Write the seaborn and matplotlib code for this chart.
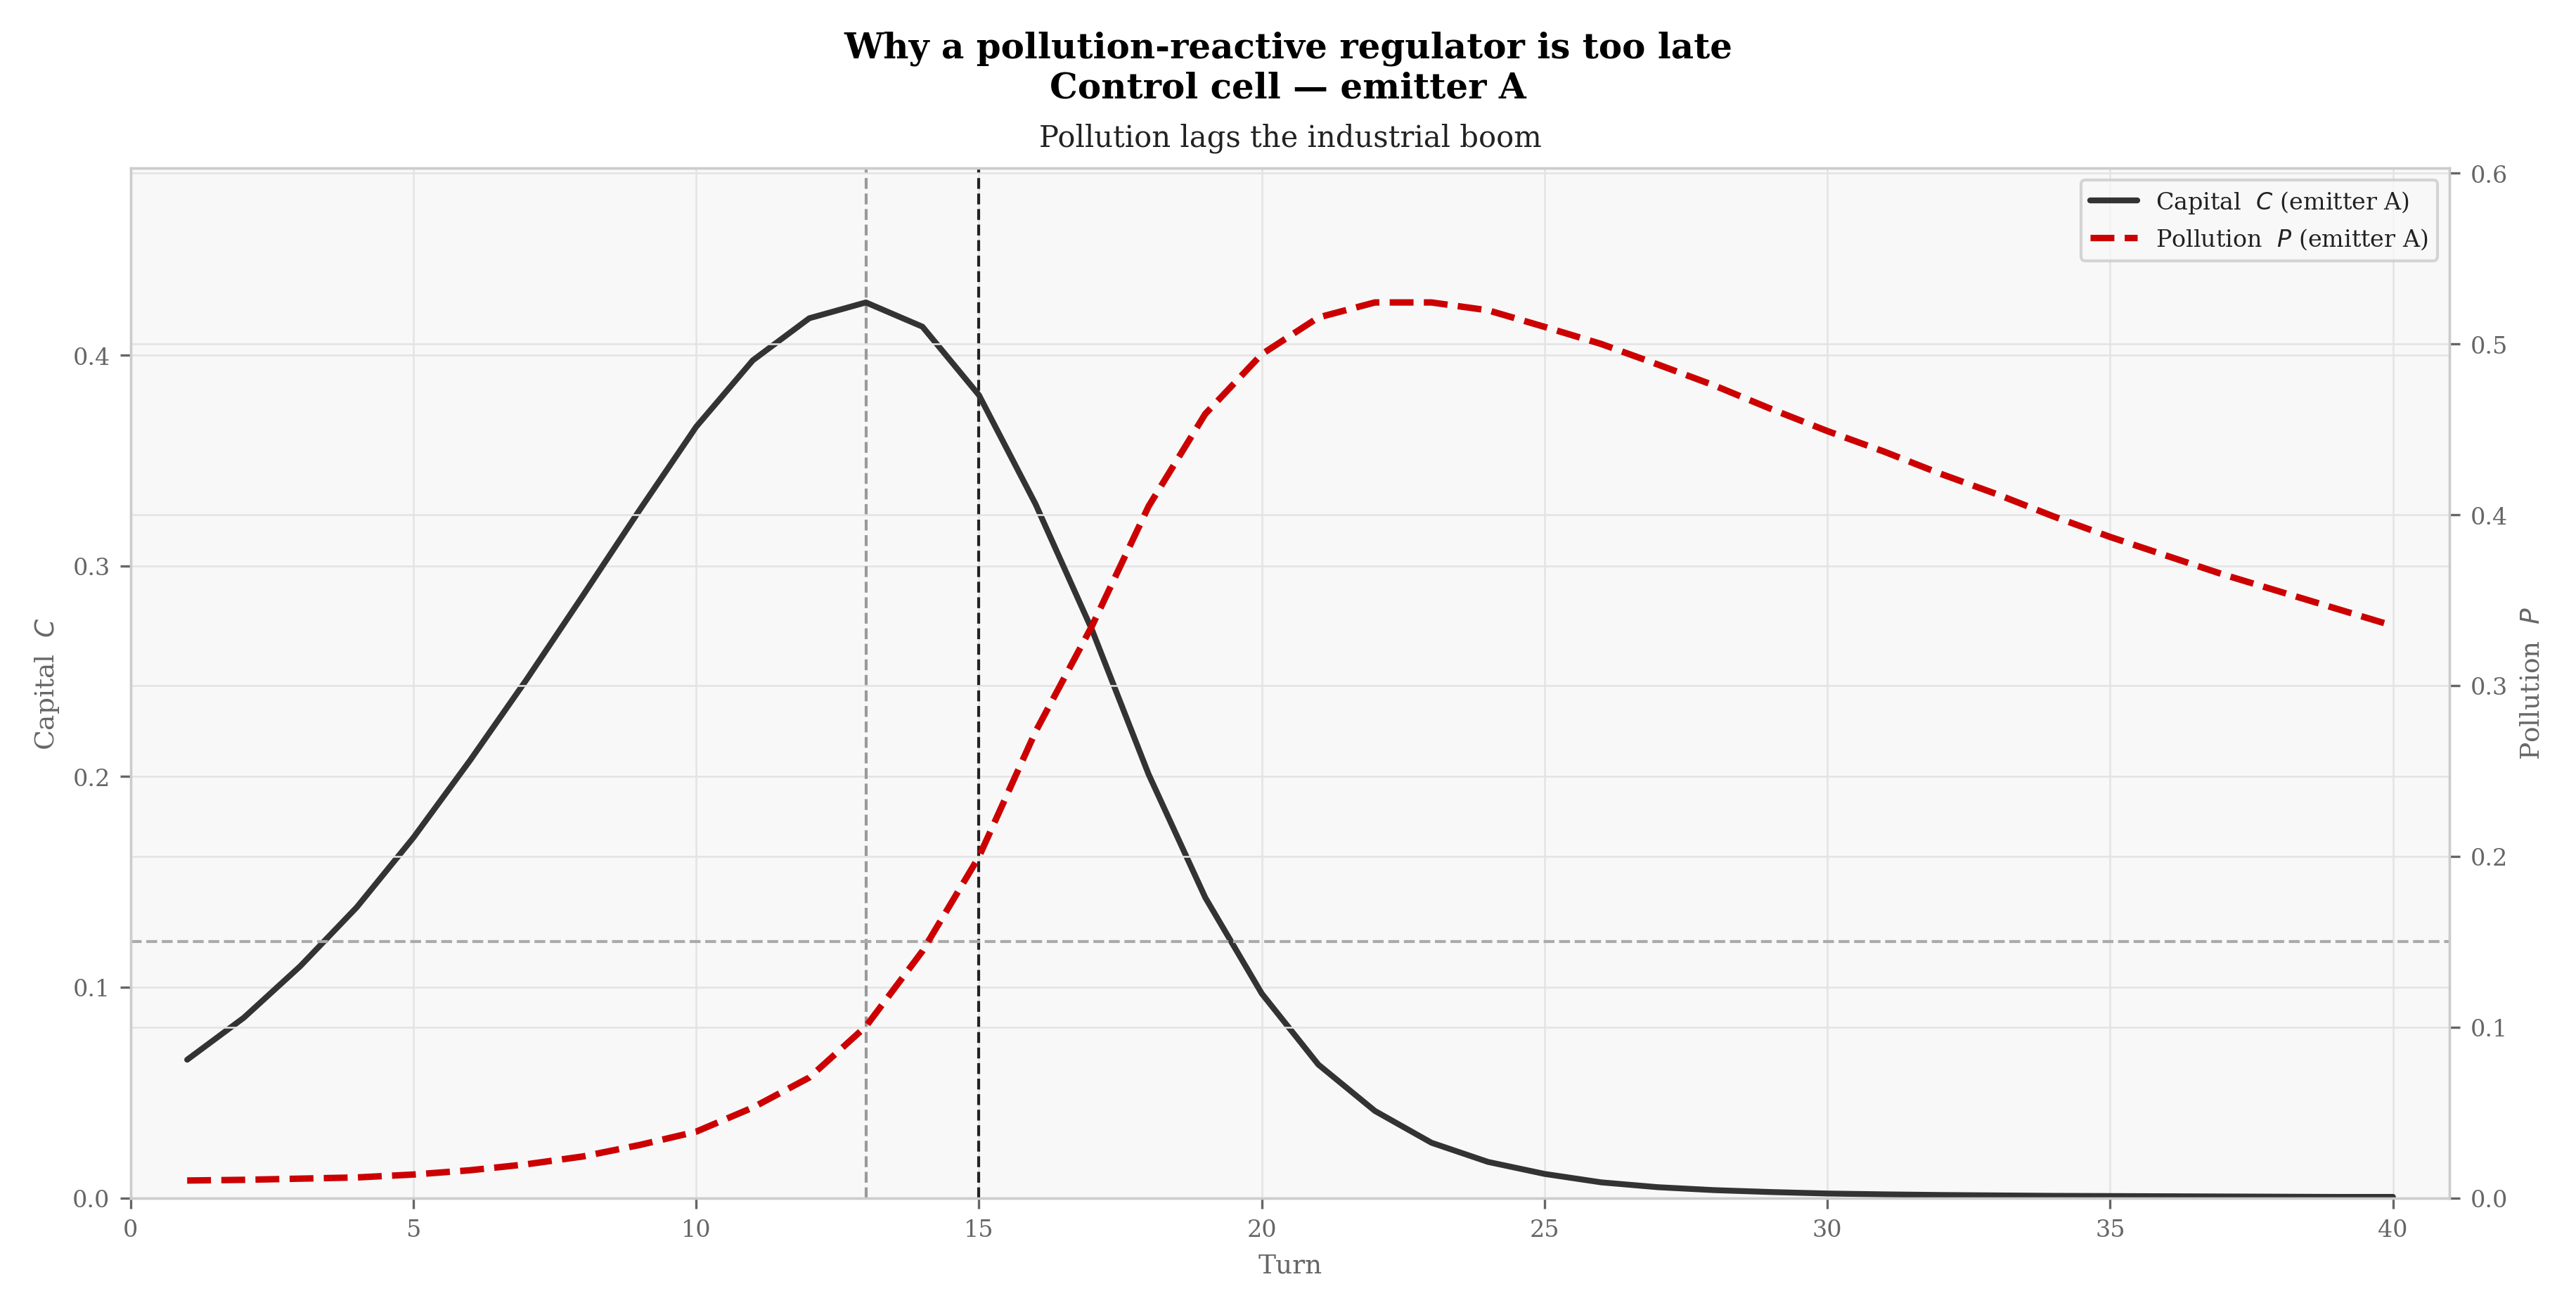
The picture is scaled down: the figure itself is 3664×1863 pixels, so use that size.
import numpy as np
import pandas as pd
import matplotlib
matplotlib.use("Agg")
import matplotlib.pyplot as plt
import seaborn as sns

# turns and series
turns = list(range(1, 41))
capital = [0.0656, 0.0855, 0.110, 0.138, 0.171, 0.2076, 0.246, 0.286, 0.3265, 0.366,
           0.3975, 0.4175, 0.425, 0.4135, 0.381, 0.3293, 0.2695, 0.201, 0.1426, 0.097,
           0.0633, 0.0413, 0.0262, 0.0171, 0.0114, 0.0074, 0.0051, 0.0037, 0.0028, 0.0021,
           0.0017, 0.0014, 0.0012, 0.0010, 0.0009, 0.0008, 0.0007, 0.0006, 0.0005, 0.0005]
pollution = [0.0102, 0.0106, 0.0113, 0.0120, 0.0137, 0.0162, 0.0197, 0.0243, 0.031, 0.0388,
             0.0529, 0.0705, 0.1004, 0.1445, 0.1998, 0.273, 0.335, 0.405, 0.459, 0.494,
             0.5155, 0.5243, 0.5243, 0.5197, 0.510, 0.500, 0.488, 0.4757, 0.462, 0.449,
             0.437, 0.424, 0.412, 0.399, 0.387, 0.376, 0.365, 0.355, 0.345, 0.335]

peak_turn = 13        # capital peak
trigger_turn = 15     # regulator reacts
threshold = 0.15      # pollution threshold

df = pd.DataFrame({"turn": turns, "capital": capital, "pollution": pollution})

sns.set_theme(style="whitegrid")
plt.rcParams["font.family"] = ["DejaVu Serif"]
plt.rcParams["mathtext.fontset"] = "dejavusans"

fig = plt.figure(figsize=(3664 / 300, 1864 / 300), dpi=300)
ax = fig.add_axes([0.0507, 0.0855, 0.9002, 0.7857])
ax.set_facecolor("#f8f8f8")

sns.lineplot(data=df, x="turn", y="capital", ax=ax, color="#333333", lw=2.0,
             label="Capital  $C$ (emitter A)", legend=False)
ax.axvline(peak_turn, color="#999999", lw=1.0, ls="--", zorder=1)
ax.axvline(trigger_turn, color="#222222", lw=1.0, ls="--", zorder=1)

ax2 = ax.twinx()
sns.lineplot(data=df, x="turn", y="pollution", ax=ax2, color="#cc0000", lw=2.2,
             linestyle="--", label="Pollution  $P$ (emitter A)", legend=False)
ax2.axhline(threshold, color="#aaaaaa", lw=1.0, ls="--", zorder=1)

ax.set_xlim(0, 41)
ax.set_ylim(0, max(capital) * 1.15)
ax2.set_ylim(0, max(pollution) * 1.15)
ax.set_xticks(range(0, 41, 5))

for a in (ax, ax2):
    a.grid(True, color="#e3e3e3", lw=0.6)
    for s in a.spines.values():
        s.set_color("#cccccc")
        s.set_linewidth(0.8)
    a.tick_params(labelsize=8, colors="#666666", length=3.5, width=0.8)
ax.tick_params(axis="y", right=False)
ax2.tick_params(axis="y", left=False, labelleft=False)
ax.tick_params(left=True, bottom=True)
ax2.tick_params(right=True)

ax.set_xlabel("Turn", fontsize=9, color="#666666")
ax.set_ylabel("Capital  $C$", fontsize=9, color="#666666")
ax2.set_ylabel("Pollution  $P$", fontsize=9, color="#666666")

handles = ax.get_lines()[:1] + ax2.get_lines()[:1]
leg = ax2.legend(handles, [h.get_label() for h in handles], loc="upper right",
                 fontsize=8, frameon=True, facecolor="#f8f8f8", edgecolor="#cccccc")
for t in leg.get_texts():
    t.set_color("#222222")

ax.set_title("Pollution lags the industrial boom", fontsize=10, color="#222222", pad=7.5)
fig.suptitle("Why a pollution-reactive regulator is too late\nControl cell \u2014 emitter A",
             fontsize=12, fontweight="bold", color="black", y=0.976, va="top")

fig.savefig("out.png", dpi=300)
